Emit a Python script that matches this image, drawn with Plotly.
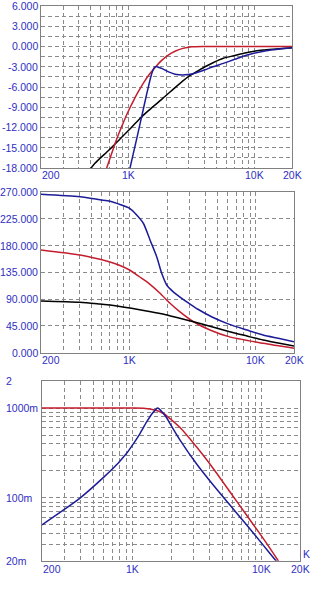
import numpy as np
import plotly.graph_objects as go

W, H = 326, 603

# ---------------- Panel 1: magnitude (dB) ----------------
p1_black_f = [470, 538, 700, 852, 1050, 1268, 1500, 1840, 2300, 2984, 3500, 4053, 4694, 5671, 7000, 8645, 11750, 15000, 20000]
p1_black_v = [-18.7, -17.3, -15.3, -13.7, -12.0, -10.4, -9.2, -7.8, -6.2, -4.45, -3.7, -3.0, -2.4, -1.75, -1.33, -0.92, -0.52, -0.36, -0.18]

p1_red_f = [640, 668, 730, 802, 900, 992, 1100, 1192, 1320, 1477, 1650, 1832, 2050, 2339, 2700, 3172, 4000, 6000, 10000, 20000]
p1_red_v = [-19.4, -18.0, -15.9, -13.7, -11.4, -9.6, -7.9, -6.7, -5.3, -4.0, -2.95, -2.05, -1.3, -0.7, -0.28, -0.05, 0.0, 0.0, 0.0, 0.0]

p1_blue_f = [990, 1024, 1150, 1268, 1400, 1520, 1600, 1650, 1750, 1832, 2100, 2339, 2806, 3172, 3600, 4053, 4694, 5671, 7000, 8645, 12480, 15960, 20000]
p1_blue_v = [-19.3, -18.0, -13.9, -10.4, -6.8, -4.1, -3.1, -2.95, -3.1, -3.25, -3.8, -4.1, -4.2, -4.07, -3.77, -3.45, -3.0, -2.5, -1.9, -1.3, -0.62, -0.37, -0.18]

p1_yticks = [6, 3, 0, -3, -6, -9, -12, -15, -18]
p1_ylabels = ["6.000", "3.000", "0.000", "-3.000", "-6.000", "-9.000", "-12.000", "-15.000", "-18.000"]

# ---------------- Panel 2: phase (deg) ----------------
p2_blue_f = [200, 406, 585, 702, 843, 1011, 1141, 1288, 1455, 1643, 1800, 1971, 2200, 2510, 3000, 3480, 4500, 6100, 8500, 11380, 15000, 20000]
p2_blue_v = [266.2, 262.0, 257.0, 254.5, 249.0, 242.0, 231.4, 217.5, 189.4, 161.3, 133.4, 113.8, 103.0, 93.5, 82.0, 73.0, 60.0, 48.0, 38.0, 29.7, 24.2, 18.5]

p2_red_f = [200, 406, 585, 702, 843, 1011, 1200, 1369, 1745, 2094, 2495, 3210, 4335, 6100, 11380, 20000]
p2_red_v = [172.6, 164.2, 157.0, 152.5, 146.5, 138.5, 127.6, 119.3, 99.8, 83.0, 69.0, 52.0, 38.2, 27.0, 15.8, 7.4]

p2_black_f = [200, 406, 585, 702, 1040, 1400, 1840, 2500, 3210, 4335, 6200, 8500, 11380, 15000, 20000]
p2_black_v = [86.9, 84.7, 81.8, 80.2, 74.5, 69.6, 65.0, 57.8, 52.0, 44.5, 35.3, 28.0, 21.3, 16.4, 11.3]

p2_yticks = [270, 225, 180, 135, 90, 45, 0]
p2_ylabels = ["270.000", "225.000", "180.000", "135.000", "90.000", "45.000", "0.000"]

# ---------------- Panel 3: magnitude (linear, log scale) ----------------
p3_red_f = [200, 500, 1000, 1220, 1500, 1750, 1850, 2340, 3150, 4234, 5704, 7670, 10330, 13520, 14500]
p3_red_v = [1.0, 1.0, 1.0, 0.995, 0.95, 0.87, 0.82, 0.61, 0.37, 0.214, 0.1178, 0.0649, 0.0357, 0.0201, 0.017]

p3_blue_f = [200, 394, 597, 760, 853, 900, 1021, 1150, 1295, 1440, 1520, 1565, 1620, 1734, 1850, 1955, 2350, 3150, 4234, 5704, 7670, 10330, 12970, 14000]
p3_blue_v = [0.0502, 0.0995, 0.168, 0.235, 0.284, 0.31, 0.40, 0.52, 0.70, 0.88, 0.96, 1.0, 0.98, 0.88, 0.78, 0.68, 0.44, 0.24, 0.140, 0.0838, 0.0505, 0.030, 0.0201, 0.0175]

p3_yticks = [2, 1, 0.1, 0.02]
p3_ylabels = ["2", "1000m", "100m", "20m"]

# ---------------- X axis labels (shared) ----------------
x_ticks = [200, 1000, 10000, 20000]
x_labels = ["200", "1K", "10K", "20K"]

grid_x = [200, 300, 400, 500, 600, 700, 800, 900, 1000, 2000, 3000, 4000, 5000,
          6000, 7000, 8000, 9000, 10000, 20000]
grid_y1 = [6 - 1.5 * i for i in range(17)]
grid_y2 = [0, 45, 90, 135, 180, 225, 270]
grid_y3 = [0.02, 0.03, 0.04, 0.05, 0.06, 0.07, 0.08, 0.09, 0.1, 0.2, 0.3, 0.4,
           0.5, 0.6, 0.7, 0.8, 0.9, 1.0, 2.0]

RED = "#c41e2e"
BLUE = "#1c1c98"
BLACK = "#000000"
TXT = "#2e2ec2"
GRID = "#8a8a8a"
FRAME = "#808080"
FONT = "Liberation Sans, Arial, sans-serif"
FS = 10.5

# pixel boxes (left, right, top, bottom)
boxes = [(41, 292, 6, 168), (41, 294, 192, 352.7), (42, 300, 381, 560.7)]


def dom_x(b):
    return [b[0] / W, b[1] / W]


def dom_y(b):
    return [1 - b[3] / H, 1 - b[2] / H]


fig = go.Figure()
LW = 1.5

def add(xa, ya, f, v, color):
    fig.add_trace(go.Scatter(x=f, y=v, mode="lines", xaxis=xa, yaxis=ya,
                             line=dict(color=color, width=LW, shape="spline", smoothing=0.7),
                             showlegend=False, hoverinfo="skip"))

add("x", "y", p1_black_f, p1_black_v, BLACK)
add("x", "y", p1_red_f, p1_red_v, RED)
add("x", "y", p1_blue_f, p1_blue_v, BLUE)

add("x2", "y2", p2_blue_f, p2_blue_v, BLUE)
add("x2", "y2", p2_red_f, p2_red_v, RED)
add("x2", "y2", p2_black_f, p2_black_v, BLACK)

add("x3", "y3", p3_red_f, p3_red_v, RED)
add("x3", "y3", p3_blue_f, p3_blue_v, BLUE)

common_x = dict(type="log", range=[np.log10(200), np.log10(20000)], tickvals=grid_x,
                showticklabels=False, ticks="", showgrid=True, gridcolor=GRID,
                griddash="4px,3px", gridwidth=1, showline=True, mirror=True,
                linecolor=FRAME, linewidth=1, zeroline=False, fixedrange=True)

def yax(b, **kw):
    d = dict(showticklabels=False, ticks="", showgrid=True, gridcolor=GRID,
             griddash="4px,3px", gridwidth=1, showline=True, mirror=True,
             linecolor=FRAME, linewidth=1, zeroline=False, domain=dom_y(b))
    d.update(kw)
    return d

fig.update_layout(
    width=W, height=H, margin=dict(l=0, r=0, t=0, b=0),
    paper_bgcolor="white", plot_bgcolor="white",
    xaxis=dict(common_x, domain=dom_x(boxes[0]), anchor="y"),
    yaxis=yax(boxes[0], range=[-18, 6], tickvals=grid_y1, anchor="x"),
    xaxis2=dict(common_x, domain=dom_x(boxes[1]), anchor="y2"),
    yaxis2=yax(boxes[1], range=[0, 270], tickvals=grid_y2, anchor="x2"),
    xaxis3=dict(common_x, domain=dom_x(boxes[2]), anchor="y3"),
    yaxis3=yax(boxes[2], type="log", range=[np.log10(0.02), np.log10(2)], tickvals=grid_y3, anchor="x3"),
)

ann = []
font = dict(family=FONT, size=FS, color=TXT)

# y labels panels 1, 2 (right aligned)
for v, t in zip(p1_yticks, p1_ylabels):
    ann.append(dict(x=39 / W, xref="paper", y=v, yref="y", text=t, showarrow=False,
                    xanchor="right", yanchor="middle", font=font, borderpad=0))
for v, t in zip(p2_yticks, p2_ylabels):
    ann.append(dict(x=39 / W, xref="paper", y=v, yref="y2", text=t, showarrow=False,
                    xanchor="right", yanchor="middle", font=font, borderpad=0))
# y labels panel 3 (left aligned)
for v, t in zip(p3_yticks, p3_ylabels):
    ann.append(dict(x=5 / W, xref="paper", y=np.log10(v), yref="y3", text=t, showarrow=False,
                    xanchor="left", yanchor="middle", font=font, borderpad=0))

# x labels
label_y = [175, 360, 569]
for i, (xa, ly) in enumerate(zip(["x", "x2", "x3"], label_y)):
    for v, t in zip(x_ticks, x_labels):
        ann.append(dict(x=np.log10(v), xref=xa, y=1 - ly / H, yref="paper", text=t,
                        showarrow=False, xanchor="left" if v == 200 else "center",
                        yanchor="middle", font=font, borderpad=0))

# stray clipped label at right of panel 3
ann.append(dict(x=302 / W, xref="paper", y=1 - 553.5 / H, yref="paper", text="K",
                showarrow=False, xanchor="left", yanchor="middle", font=font, borderpad=0))

fig.update_layout(annotations=ann)
fig.write_html("out.html")
